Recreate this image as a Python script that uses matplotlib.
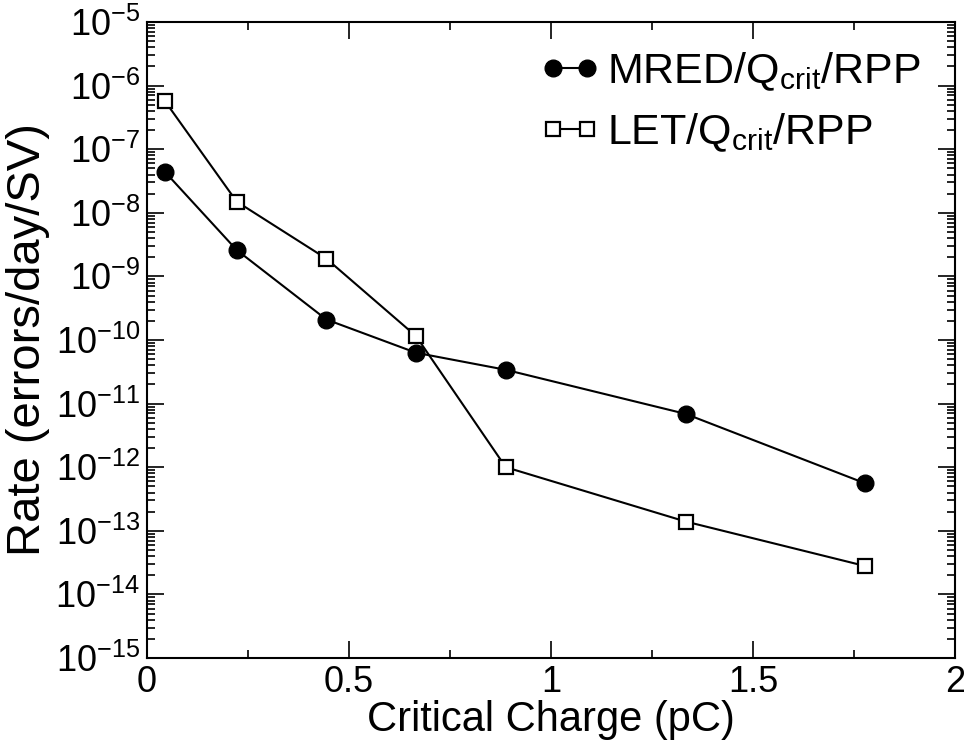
import numpy as np
import matplotlib
matplotlib.use("Agg")
import matplotlib.pyplot as plt
from matplotlib.ticker import LogLocator, MultipleLocator, FuncFormatter, NullFormatter

plt.rcParams['font.family'] = ['Liberation Sans', 'DejaVu Sans']
plt.rcParams['mathtext.fontset'] = 'custom'
plt.rcParams['mathtext.rm'] = 'Liberation Sans'
plt.rcParams['mathtext.it'] = 'Liberation Sans:italic'
plt.rcParams['mathtext.bf'] = 'Liberation Sans:bold'

# Dados
carga = [0.0444, 0.222, 0.444, 0.666, 0.888, 1.333, 1.777]
taxa_mred = [4.4e-8, 2.6e-9, 2.1e-10, 6.3e-11, 3.4e-11, 6.9e-12, 5.6e-13]
taxa_let = [5.7e-7, 1.5e-8, 1.9e-9, 1.15e-10, 1.0e-12, 1.4e-13, 2.8e-14]

fig = plt.figure(figsize=(9.64, 7.44), dpi=100)
ax = fig.add_axes([147/964, 1 - 658/744, (955-147)/964, (658-22)/744])

ax.plot(carga, taxa_mred, color="black", lw=1.5, marker="o", ms=12,
        mfc="black", mec="black", label=r"MRED/Q$_{\mathrm{crit}}$/RPP")
ax.plot(carga, taxa_let, color="black", lw=1.5, marker="s", ms=10,
        mfc="white", mec="black", mew=1.6, label=r"LET/Q$_{\mathrm{crit}}$/RPP")

ax.set_yscale("log")
ax.set_xlim(0, 2)
ax.set_ylim(1e-15, 1e-5)

ax.xaxis.set_major_locator(MultipleLocator(0.5))
ax.xaxis.set_minor_locator(MultipleLocator(0.25))
ax.xaxis.set_major_formatter(FuncFormatter(lambda v, p: "%g" % v))
ax.yaxis.set_major_locator(LogLocator(base=10, numticks=20))
ax.yaxis.set_minor_locator(LogLocator(base=10, subs=np.arange(2, 10), numticks=20))
ax.yaxis.set_minor_formatter(NullFormatter())
ax.yaxis.set_major_formatter(FuncFormatter(lambda v, p: r"10$^{%d}$" % round(np.log10(v))))

ax.tick_params(which="both", direction="in", top=True, right=True, width=1.2)
ax.tick_params(which="major", length=12, labelsize=26, pad=5)
ax.tick_params(which="minor", length=6)
for s in ax.spines.values():
    s.set_linewidth(1.5)

ax.set_xlabel("Critical Charge (pC)", fontsize=30, labelpad=0)
ax.set_ylabel("Rate (errors/day/SV)", fontsize=34, labelpad=4)

ax.legend(loc="upper right", bbox_to_anchor=(0.957, 0.955), frameon=False,
          fontsize=31, numpoints=2, handlelength=1.4, handletextpad=0.15,
          labelspacing=0.42, borderaxespad=0.0, borderpad=0.0)

fig.savefig("out.png", dpi=100)
